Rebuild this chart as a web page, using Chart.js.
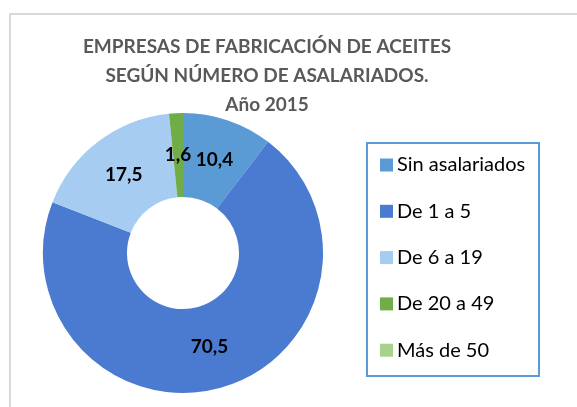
<!DOCTYPE html>
<html>
<head>
<meta charset="utf-8">
<script src="https://cdn.jsdelivr.net/npm/chart.js@4.4.0/dist/chart.umd.min.js"></script>
<style>
  html, body { margin: 0; padding: 0; background: #fff; }
  #wrap { position: relative; width: 577px; height: 407px; overflow: hidden; }
  #frame { position: absolute; left: 9px; top: 13px; width: 600px; height: 420px; border: 2px solid #d9d9d9; box-sizing: border-box; }
  #myChart { position: absolute; left: 0; top: 0; }
</style>
</head>
<body>
<div id="wrap">
  <div id="frame"></div>
  <canvas id="myChart" width="577" height="407"></canvas>
</div>
<script>
// data
var titleLines = ['EMPRESAS DE FABRICACIÓN DE ACEITES', 'SEGÚN NÚMERO DE ASALARIADOS.', 'Año 2015'];
var categories = ['Sin asalariados', 'De 1 a 5', 'De 6 a 19', 'De 20 a 49', 'Más de 50'];
var values = [10.4, 70.5, 17.5, 1.6, 0];
var colors = ['#5b9bd5', '#4a7bd0', '#a6cdf1', '#70ad47', '#a9d18e'];

var fontFam = 'Lato, "Open Sans", sans-serif';

// title, data labels and boxed legend drawn on the canvas
var extras = {
    id: 'extras',
    afterDraw: function (chart) {
        var ctx = chart.ctx;
        ctx.save();

        // title
        ctx.fillStyle = '#595959';
        ctx.font = 'bold 19px ' + fontFam;
        ctx.textAlign = 'center';
        ctx.textBaseline = 'middle';
        for (var i = 0; i < titleLines.length; i++) {
            ctx.fillText(titleLines[i], 267, 47 + i * 29);
        }

        // data labels
        var meta = chart.getDatasetMeta(0);
        ctx.fillStyle = '#000';
        ctx.font = 'bold 19px ' + fontFam;
        meta.data.forEach(function (arc, idx) {
            var v = values[idx];
            if (!v) return;
            var p = arc.tooltipPosition();
            ctx.fillText(v.toFixed(1).replace('.', ','), p.x, p.y);
        });

        // legend box
        ctx.strokeStyle = '#5b9bd5';
        ctx.lineWidth = 2;
        ctx.strokeRect(367, 143, 172, 233);
        ctx.font = '20px ' + fontFam;
        ctx.textAlign = 'left';
        for (var j = 0; j < categories.length; j++) {
            var y = 165 + j * 46.3;
            ctx.fillStyle = colors[j];
            ctx.fillRect(380, y - 6.5, 13, 13);
            ctx.fillStyle = '#000';
            ctx.fillText(categories[j], 397, y);
        }
        ctx.restore();
    }
};

var ctx = document.getElementById('myChart').getContext('2d');
var chart = new Chart(ctx, {
    type: 'doughnut',
    data: {
        labels: categories,
        datasets: [{
            data: values,
            backgroundColor: colors,
            borderWidth: 0
        }]
    },
    options: {
        responsive: false,
        animation: false,
        cutout: '40%',
        layout: {
            padding: { left: 43, right: 254, top: 113, bottom: 14 }
        },
        plugins: {
            legend: { display: false },
            tooltip: { enabled: false }
        }
    },
    plugins: [extras]
});
</script>
</body>
</html>
